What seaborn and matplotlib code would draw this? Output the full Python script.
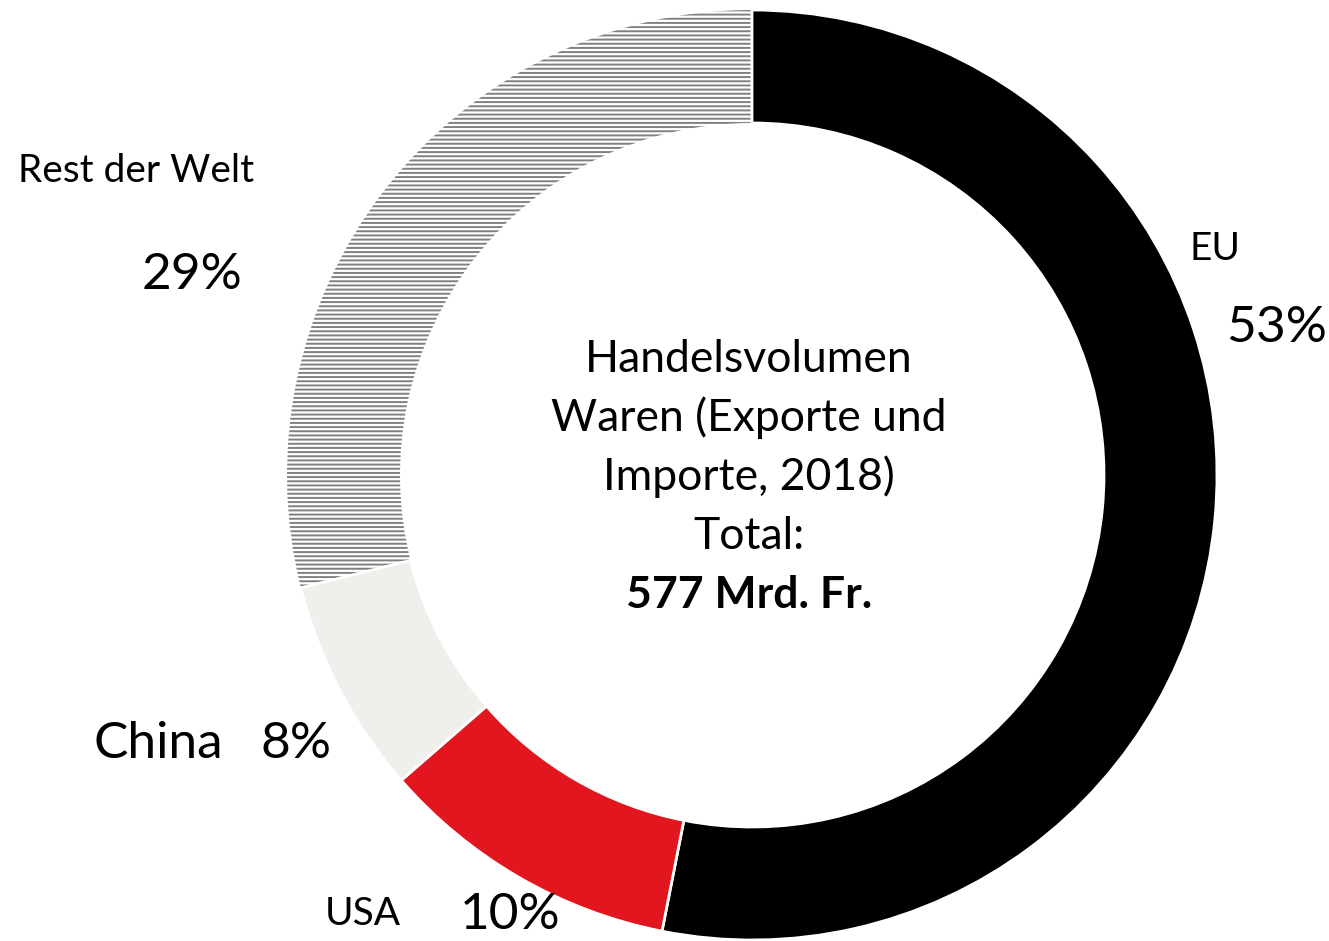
import matplotlib
matplotlib.use("Agg")
import matplotlib.pyplot as plt
import seaborn as sns

# Anteile am Handelsvolumen Waren 2018 (im Uhrzeigersinn ab 12 Uhr),
# geschaetzt aus der Grafik; Beschriftungen sind gerundet
regions = ["EU", "USA", "China", "Rest der Welt"]
shares = [53.1, 10.5, 7.5, 28.9]
pct_labels = ["53%", "10%", "8%", "29%"]
center_lines = ["Handelsvolumen", "Waren (Exporte und", "Importe, 2018)", "Total:", "577 Mrd. Fr."]

sns.set_theme(style="white")
plt.rcParams["font.family"] = ["Lato", "DejaVu Sans"]
plt.rcParams["hatch.linewidth"] = 1.4

W, H = 1329, 941
CX, CY, R = 752, 475, 465  # pixel centre and outer radius of the ring

fig = plt.figure(figsize=(W / 100, H / 100), dpi=100)
ax = fig.add_axes([0, 0, 1, 1])

colors = ["#000000", "#E2161E", "#F0EFEB", "#FFFFFF"]
wedges, _ = ax.pie(
    shares,
    colors=colors,
    startangle=90,
    counterclock=False,
    radius=1,
    wedgeprops=dict(width=0.243, edgecolor="white", linewidth=2),
)
# Rest der Welt: grau schraffiert
rest = wedges[3]
rest.set_hatch("----")
rest.set_edgecolor("#808080")
rest.set_linewidth(0)
rest.set_zorder(0.5)

ax.set_xlim(-CX / R, (W - CX) / R)
ax.set_ylim(-(H - CY) / R, CY / R)
ax.set_aspect("equal")
ax.axis("off")


def px(x, y):
    return (x - CX) / R, (CY - y) / R


small, big, mid = 28, 37, 32

# name label (left, baseline) and size, percentage label (left, baseline)
name_pos = {"EU": (1190, 260, small), "USA": (325, 925, small),
            "China": (93, 758, big), "Rest der Welt": (18, 182, small)}
pct_pos = {"EU": (1226, 342), "USA": (460, 929), "China": (261, 758),
           "Rest der Welt": (142, 289)}

for name, pct in zip(regions, pct_labels):
    x, y, s = name_pos[name]
    ax.text(*px(x, y), name, fontsize=s, ha="left", va="baseline", color="black")
    x, y = pct_pos[name]
    ax.text(*px(x, y), pct, fontsize=big, ha="left", va="baseline", color="black")

baselines = [372, 431, 490, 549, 608]
for i, (line, yb) in enumerate(zip(center_lines, baselines)):
    ax.text(*px(749, yb), line, fontsize=mid, ha="center", va="baseline",
            fontweight="bold" if i == len(center_lines) - 1 else "normal", color="black")

fig.savefig("out.png", dpi=100, facecolor="white")
